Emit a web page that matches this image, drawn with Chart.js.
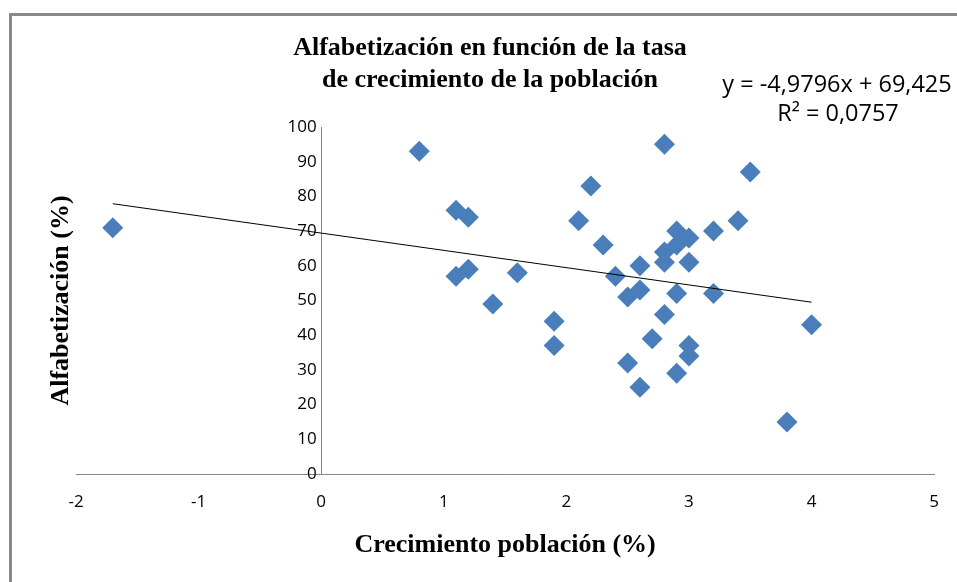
<!DOCTYPE html>
<html>
<head>
<meta charset="utf-8">
<title>Alfabetización vs crecimiento</title>
<script src="https://cdn.jsdelivr.net/npm/chart.js@4.4.1/dist/chart.umd.min.js"></script>
<style>
  html, body { margin: 0; padding: 0; background: #fff; }
</style>
</head>
<body>
<canvas id="chart" width="957" height="582"></canvas>
<script>
// crecimiento de la población (%) por país
const crecimiento = [-1.7, 0.8, 1.1, 1.2, 1.1, 1.2, 1.6, 1.4, 1.9, 1.9,
                     2.1, 2.2, 2.3, 2.4, 2.5, 2.5, 2.6, 2.6, 2.6, 2.7,
                     2.8, 2.8, 2.8, 2.8, 2.9, 2.9, 2.9, 2.9, 3.0, 3.0,
                     3.0, 3.0, 3.2, 3.2, 3.4, 3.5, 3.8, 4.0];
// alfabetización (%)
const alfabetizacion = [71, 93, 76, 74, 57, 59, 58, 49, 44, 37,
                        73, 83, 66, 57, 51, 32, 60, 53, 25, 39,
                        95, 64, 61, 46, 70, 66, 52, 29, 68, 61,
                        37, 34, 70, 52, 73, 87, 15, 43];

// tendencia lineal (tal como la muestra el gráfico)
const trendSlope = -4.9796;
const trendIntercept = 69.425;
const trendLabel = 'y = -4,9796x + 69,425';
const r2Label = 'R² = 0,0757';

const xRange = [-2, 5];
const yRange = [0, 100];

const chartTitle = ['Alfabetización en función de la tasa', 'de crecimiento de la población'];
const xTitle = 'Crecimiento población (%)';
const yTitle = 'Alfabetización (%)';

const points = crecimiento.map((x, i) => ({ x: x, y: alfabetizacion[i] }));
const xMin = Math.min(...crecimiento);
const xMax = Math.max(...crecimiento);
const trendPoints = [xMin, xMax].map(x => ({ x: x, y: trendSlope * x + trendIntercept }));

const sans = "'Open Sans', 'Liberation Sans', sans-serif";
const serifBold = "'Liberation Serif', 'DejaVu Serif', serif";
const tickFont = { family: sans, size: 17 };

const decor = {
  id: 'decor',
  beforeDraw(chart) {
    const ctx = chart.ctx;
    ctx.save();
    ctx.fillStyle = '#fff';
    ctx.fillRect(0, 0, chart.width, chart.height);
    ctx.strokeStyle = '#8a8a8a';
    ctx.lineWidth = 3;
    ctx.beginPath();
    ctx.moveTo(10.5, chart.height);
    ctx.lineTo(10.5, 14.5);
    ctx.lineTo(chart.width, 14.5);
    ctx.stroke();
    ctx.restore();
  },
  afterDraw(chart) {
    const ctx = chart.ctx;
    ctx.save();
    ctx.fillStyle = '#000';
    ctx.textAlign = 'center';
    ctx.textBaseline = 'middle';
    ctx.font = 'bold 26px ' + serifBold;
    ctx.fillText(chartTitle[0], 490, 48);
    ctx.fillText(chartTitle[1], 490, 80);
    ctx.font = '23.5px ' + sans;
    ctx.fillText(trendLabel, 837, 85);
    ctx.fillText(r2Label, 838, 114);
    ctx.restore();
  }
};

new Chart(document.getElementById('chart'), {
  type: 'scatter',
  data: {
    datasets: [
      {
        type: 'line',
        data: trendPoints,
        borderColor: '#000',
        borderWidth: 1,
        pointRadius: 0,
        fill: false,
        order: 0
      },
      {
        data: points,
        pointStyle: 'rectRot',
        pointRadius: 10.5,
        pointBackgroundColor: '#4a7ebb',
        pointBorderColor: '#4a7ebb',
        pointBorderWidth: 0,
        order: 1
      }
    ]
  },
  options: {
    responsive: false,
    animation: false,
    layout: { padding: { left: 20, right: 20, top: 127, bottom: 20 } },
    plugins: {
      legend: { display: false },
      tooltip: { enabled: false }
    },
    scales: {
      x: {
        type: 'linear',
        position: 'bottom',
        min: xRange[0],
        max: xRange[1],
        afterFit: s => { s.height = 88; },
        ticks: { stepSize: 1, color: '#000', font: tickFont, padding: 18 },
        grid: { display: false, drawTicks: false },
        border: { display: true, color: '#888', width: 1 },
        title: {
          display: true,
          text: xTitle,
          color: '#000',
          font: { family: serifBold, size: 26, weight: 'bold' },
          padding: { top: 0, bottom: 1 }
        }
      },
      y: {
        type: 'linear',
        position: { x: 0 },
        min: yRange[0],
        max: yRange[1],
        ticks: { stepSize: 10, color: '#000', font: tickFont, callback: v => v + ' ' },
        grid: { display: false, drawTicks: false },
        border: { display: true, color: '#888', width: 1 }
      },
      yTitle: {
        type: 'linear',
        axis: 'y',
        position: 'left',
        min: yRange[0],
        max: yRange[1],
        afterFit: s => { s.width = 56; },
        ticks: { display: false },
        grid: { display: false, drawTicks: false },
        border: { display: false },
        title: {
          display: true,
          text: yTitle,
          color: '#000',
          font: { family: serifBold, size: 26, weight: 'bold' },
          padding: { top: 26, bottom: 0 }
        }
      }
    }
  },
  plugins: [decor]
});
</script>
</body>
</html>
